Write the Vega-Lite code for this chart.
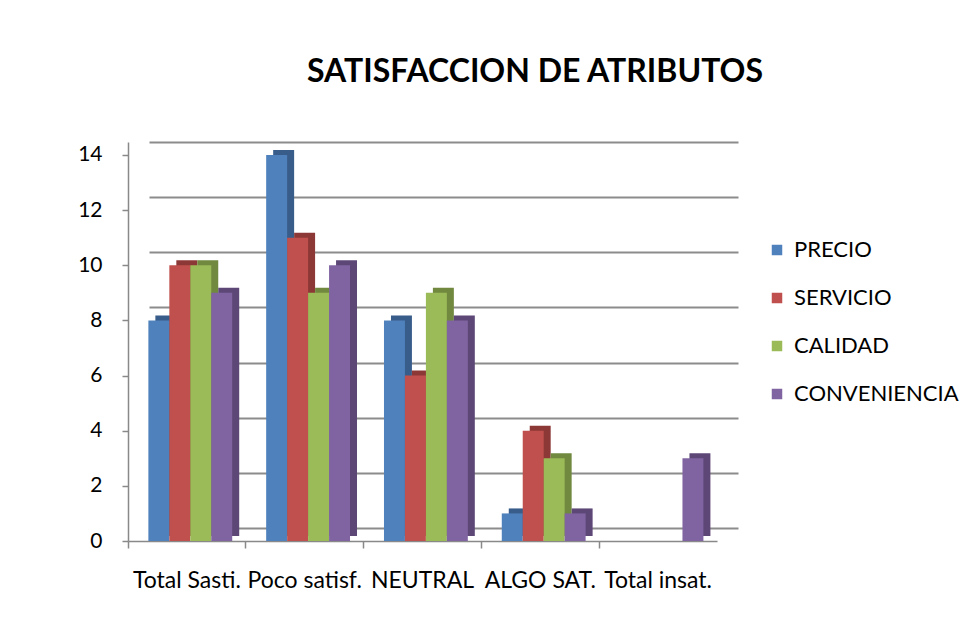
{
  "$schema": "https://vega.github.io/schema/vega-lite/v6.json",
  "autosize": {"type": "none"},
  "padding": {"left": 128, "top": 142, "right": 238, "bottom": 95},
  "width": 610,
  "height": 399,
  "background": "white",
  "title": {
    "text": "SATISFACCION DE ATRIBUTOS",
    "font": "Lato",
    "fontSize": 32,
    "fontWeight": "bold",
    "color": "#000000",
    "anchor": "middle",
    "dx": 102,
    "offset": 50
  },
  "data": {
    "values": [
      {"Categoria": "Total Sasti.", "Serie": "PRECIO", "Valor": 8},
      {"Categoria": "Total Sasti.", "Serie": "SERVICIO", "Valor": 10},
      {"Categoria": "Total Sasti.", "Serie": "CALIDAD", "Valor": 10},
      {"Categoria": "Total Sasti.", "Serie": "CONVENIENCIA", "Valor": 9},
      {"Categoria": "Poco satisf.", "Serie": "PRECIO", "Valor": 14},
      {"Categoria": "Poco satisf.", "Serie": "SERVICIO", "Valor": 11},
      {"Categoria": "Poco satisf.", "Serie": "CALIDAD", "Valor": 9},
      {"Categoria": "Poco satisf.", "Serie": "CONVENIENCIA", "Valor": 10},
      {"Categoria": "NEUTRAL", "Serie": "PRECIO", "Valor": 8},
      {"Categoria": "NEUTRAL", "Serie": "SERVICIO", "Valor": 6},
      {"Categoria": "NEUTRAL", "Serie": "CALIDAD", "Valor": 9},
      {"Categoria": "NEUTRAL", "Serie": "CONVENIENCIA", "Valor": 8},
      {"Categoria": "ALGO SAT.", "Serie": "PRECIO", "Valor": 1},
      {"Categoria": "ALGO SAT.", "Serie": "SERVICIO", "Valor": 4},
      {"Categoria": "ALGO SAT.", "Serie": "CALIDAD", "Valor": 3},
      {"Categoria": "ALGO SAT.", "Serie": "CONVENIENCIA", "Valor": 1},
      {"Categoria": "Total insat.", "Serie": "PRECIO", "Valor": 0},
      {"Categoria": "Total insat.", "Serie": "SERVICIO", "Valor": 0},
      {"Categoria": "Total insat.", "Serie": "CALIDAD", "Valor": 0},
      {"Categoria": "Total insat.", "Serie": "CONVENIENCIA", "Valor": 3}
    ]
  },
  "encoding": {
    "x": {
      "field": "Categoria",
      "type": "nominal",
      "sort": null,
      "scale": {"range": [0, 589], "paddingInner": 0, "paddingOuter": 0},
      "axis": {
        "title": null,
        "labelAngle": 0,
        "labelFont": "Lato",
        "labelFontSize": 23,
        "labelColor": "#000000",
        "labelPadding": 21,
        "labelOverlap": false,
        "labelLimit": 300,
        "tickSize": 7,
        "tickColor": "#898989",
        "tickWidth": 1.5,
        "domainColor": "#898989",
        "domainWidth": 1.5,
        "bandPosition": 0,
        "grid": false
      }
    }
  },
  "layer": [
    {
      "mark": {"type": "point", "opacity": 0},
      "encoding": {
        "y": {
          "field": "Valor",
          "type": "quantitative",
          "scale": {"domain": [-0.47, 14], "nice": false, "zero": false},
          "axis": {
            "orient": "right",
            "values": [0, 2, 4, 6, 8, 10, 12, 14],
            "grid": true,
            "gridColor": "#8c8c8c",
            "gridWidth": 2,
            "labels": false,
            "ticks": false,
            "domain": false,
            "title": null
          }
        }
      }
    },
    {
      "encoding": {
        "y": {
          "field": "Valor",
          "type": "quantitative",
          "scale": {"domain": [0, 14.47], "nice": false},
          "axis": {
            "title": null,
            "values": [0, 2, 4, 6, 8, 10, 12, 14],
            "grid": false,
            "labelFont": "Lato",
            "labelFontSize": 21,
            "labelColor": "#000000",
            "labelPadding": 20,
            "tickSize": 6,
            "tickColor": "#898989",
            "tickWidth": 1.5,
            "domainColor": "#898989",
            "domainWidth": 1.5
          }
        }
      },
      "layer": [
        {
          "mark": {"type": "bar", "yOffset": -5},
          "encoding": {
            "xOffset": {
              "field": "Serie",
              "type": "nominal",
              "sort": ["PRECIO", "SERVICIO", "CALIDAD", "CONVENIENCIA"],
              "scale": {"paddingInner": 0, "paddingOuter": 0.81, "align": 0.806}
            },
            "color": {
              "field": "Serie",
              "type": "nominal",
              "sort": ["PRECIO", "SERVICIO", "CALIDAD", "CONVENIENCIA"],
              "scale": {
                "domain": ["PRECIO", "SERVICIO", "CALIDAD", "CONVENIENCIA"],
                "range": ["#385D8A", "#8C3836", "#71893F", "#5C4776"]
              },
              "legend": null
            }
          }
        },
        {
          "mark": {"type": "bar"},
          "encoding": {
            "xOffset": {
              "field": "Serie",
              "type": "nominal",
              "sort": ["PRECIO", "SERVICIO", "CALIDAD", "CONVENIENCIA"],
              "scale": {"paddingInner": 0, "paddingOuter": 0.81, "align": 0.6}
            },
            "color": {
              "field": "Serie",
              "type": "nominal",
              "sort": ["PRECIO", "SERVICIO", "CALIDAD", "CONVENIENCIA"],
              "scale": {
                "domain": ["PRECIO", "SERVICIO", "CALIDAD", "CONVENIENCIA"],
                "range": ["#4F81BD", "#C0504D", "#9BBB59", "#8064A2"]
              },
              "legend": {
                "title": null,
                "orient": "none",
                "legendX": 638,
                "legendY": 97,
                "symbolType": "square",
                "symbolSize": 110,
                "symbolStrokeWidth": 0,
                "labelFont": "Lato",
                "labelFontSize": 22,
                "labelColor": "#000000",
                "labelOffset": 6,
                "labelLimit": 400,
                "rowPadding": 26
              }
            }
          }
        }
      ],
      "resolve": {"scale": {"color": "independent", "xOffset": "independent"}}
    }
  ],
  "resolve": {"scale": {"y": "independent"}},
  "config": {"view": {"stroke": null}}
}
